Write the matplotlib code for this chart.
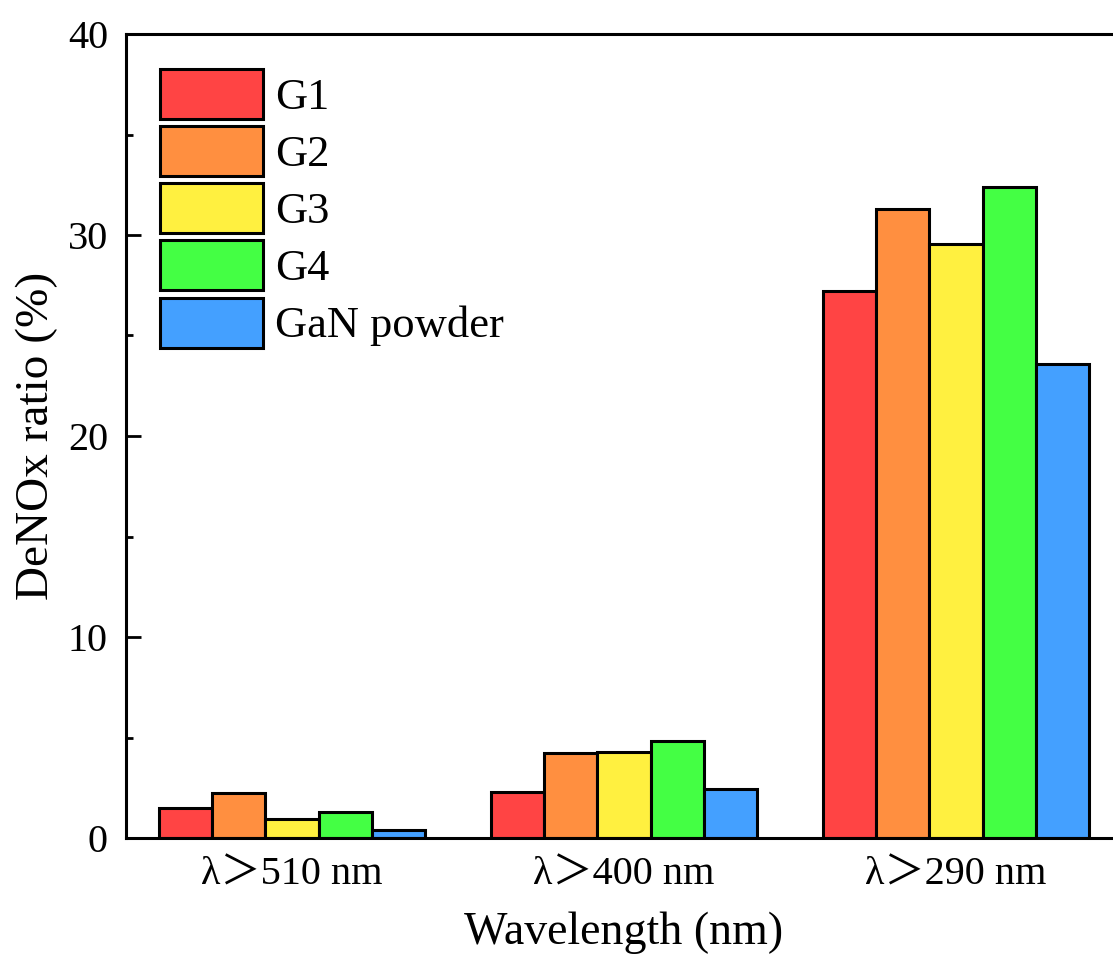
import numpy as np
import matplotlib
matplotlib.use('Agg')
import matplotlib.pyplot as plt
from matplotlib.ticker import MultipleLocator

categories = ['λ＞510 nm', 'λ＞400 nm', 'λ＞290 nm']
series = ['G1', 'G2', 'G3', 'G4', 'GaN powder']
values = {
    'G1': [1.49, 2.29, 27.2],
    'G2': [2.24, 4.23, 31.3],
    'G3': [0.95, 4.28, 29.55],
    'G4': [1.29, 4.83, 32.4],
    'GaN powder': [0.38, 2.44, 23.58],
}
colors = ['#FF4444', '#FF8F40', '#FFF040', '#44FF44', '#44A0FF']

plt.rcParams['font.family'] = ['Liberation Serif', 'Noto Sans CJK SC']

fig = plt.figure(figsize=(11.13, 9.56), dpi=100)
W, H = 1113, 956
left, right, top, bottom = 126, 1122, 34, 838
ax = fig.add_axes([left / W, 1 - bottom / H, (right - left) / W, (bottom - top) / H])

x = np.arange(len(categories))
width = 0.16
for i, (name, c) in enumerate(zip(series, colors)):
    ax.bar(x + (i - 2) * width, values[name], width, color=c, edgecolor='black',
           linewidth=2.2, label=name, zorder=2)

ax.set_xlim(-0.5, 2.5)
ax.set_ylim(0, 40)
ax.yaxis.set_major_locator(MultipleLocator(10))
ax.yaxis.set_minor_locator(MultipleLocator(5))
ax.set_xticks(x)
ax.set_xticklabels(categories)
ax.tick_params(axis='x', length=0, pad=13, labelsize=29)
ax.tick_params(axis='y', which='major', direction='in', length=11, width=2, pad=13, labelsize=29)
ax.tick_params(axis='y', which='minor', direction='in', length=5, width=2)
for s in ax.spines.values():
    s.set_linewidth(2.2)

ax.set_xlabel('Wavelength (nm)', fontsize=33, labelpad=13)
ax.set_ylabel('DeNOx ratio (%)', fontsize=34, labelpad=7)

ax.legend(loc='upper left', bbox_to_anchor=(34 / 996, 1 - 35 / 804), frameon=False,
          fontsize=32, handlelength=2.32, handleheight=1.355, labelspacing=0.16,
          handletextpad=0.27, borderpad=0, borderaxespad=0)

fig.savefig('out.png', dpi=100)
